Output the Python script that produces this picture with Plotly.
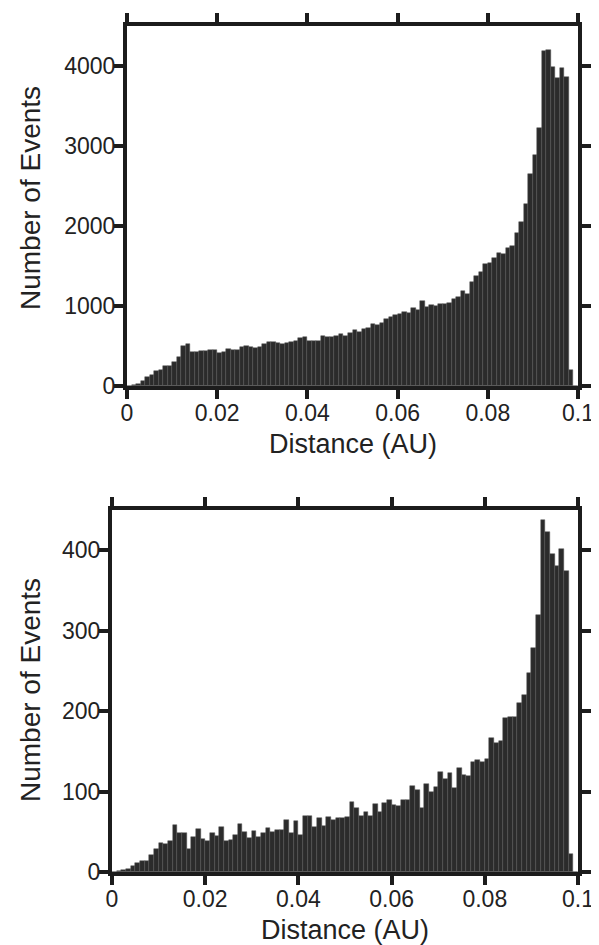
import numpy as np
import plotly.graph_objects as go

bin_width = 0.001

top_counts = [5, 15, 30, 60, 110, 135, 190, 200, 245, 255,
              295, 360, 500, 520, 430, 430, 435, 440, 455, 450,
              410, 430, 465, 455, 450, 490, 500, 490, 480, 490,
              520, 545, 550, 540, 521, 538, 555, 565, 598, 608,
              565, 560, 562, 625, 615, 618, 620, 650, 625, 667,
              700, 679, 708, 730, 771, 762, 783, 833, 867, 887,
              900, 929, 908, 970, 945, 1063, 983, 1013, 1000, 1025,
              1030, 1035, 1083, 1117, 1192, 1146, 1304, 1375, 1429, 1521,
              1542, 1596, 1658, 1646, 1721, 1754, 1908, 2054, 2271, 2650,
              2887, 3221, 4192, 4200, 3983, 3846, 3979, 3858, 200, 0]

bottom_counts = [0, 1, 3, 4, 7, 11, 14, 14, 21, 29,
                 36, 35, 39, 59, 48, 48, 28, 44, 54, 41,
                 38, 48, 45, 56, 39, 40, 46, 60, 50, 42,
                 51, 44, 49, 55, 50, 52, 52, 65, 48, 63,
                 46, 69, 69, 56, 67, 57, 68, 65, 67, 67,
                 68, 87, 79, 69, 74, 70, 84, 75, 86, 90,
                 83, 82, 90, 90, 107, 102, 80, 109, 100, 106,
                 124, 116, 123, 105, 129, 121, 119, 137, 139, 137,
                 140, 166, 160, 163, 192, 193, 193, 210, 220, 247,
                 278, 320, 438, 423, 395, 381, 402, 374, 23, 0]

x_tick_vals = [0, 0.02, 0.04, 0.06, 0.08, 0.1]
x_tick_text = ["0", "0.02", "0.04", "0.06", "0.08", "0.1"]
top_y_ticks = [0, 1000, 2000, 3000, 4000]
bottom_y_ticks = [0, 100, 200, 300, 400]

x_title = "Distance (AU)"
y_title = "Number of Events"

centers = (np.arange(len(top_counts)) + 0.5) * bin_width

# page has an 8px body margin; lay out in page pixels and convert
OFF = 8
W, H = 599 - OFF, 945 - OFF


def px(xp):
    return (xp - OFF) / W


def py(yp):
    return 1 - (yp - OFF) / H


FONT = "Liberation Sans, Arial, Helvetica, sans-serif"
INK = "#1c1c1c"
BAR = "#2b2b2b"

fig = go.Figure()
fig.add_trace(go.Bar(x=centers, y=top_counts, width=bin_width, xaxis="x", yaxis="y",
                     marker=dict(color=BAR, line=dict(color="#555555", width=0.5)),
                     hoverinfo="x+y"))
fig.add_trace(go.Bar(x=centers, y=bottom_counts, width=bin_width, xaxis="x2", yaxis="y2",
                     marker=dict(color=BAR, line=dict(color="#555555", width=0.5)),
                     hoverinfo="x+y"))

common = dict(showline=True, linewidth=4, linecolor=INK, mirror="allticks",
              ticks="outside", ticklen=9, tickwidth=3.5, tickcolor=INK,
              showgrid=False, zeroline=False, automargin=False,
              ticklabeloverflow="allow",
              tickfont=dict(family=FONT, size=23, color="#222"))

fig.update_layout(
    width=W, height=H, margin=dict(l=0, r=0, t=0, b=0, autoexpand=False),
    paper_bgcolor="white", plot_bgcolor="white", showlegend=False, bargap=0,
    xaxis=dict(domain=[px(127), px(578)], range=[0, 0.1], tickvals=x_tick_vals,
               ticktext=x_tick_text, anchor="y", ticklabelstandoff=-6, **common),
    yaxis=dict(domain=[py(386), py(26)], range=[0, 4500], tickvals=top_y_ticks,
               anchor="x", ticklabelstandoff=-6, **common),
    xaxis2=dict(domain=[px(112), px(578)], range=[0, 0.1], tickvals=x_tick_vals,
                ticktext=x_tick_text, anchor="y2", ticklabelstandoff=-6, **common),
    yaxis2=dict(domain=[py(872), py(510)], range=[0, 450], tickvals=bottom_y_ticks,
                anchor="x2", ticklabelstandoff=-6, **common),
)

ann_font = dict(family=FONT, size=27, color="#222")
fig.add_annotation(text=x_title, x=px((127 + 578) / 2), y=py(444), xref="paper", yref="paper",
                   showarrow=False, font=ann_font, xanchor="center", yanchor="middle")
fig.add_annotation(text=x_title, x=px((112 + 578) / 2), y=py(930), xref="paper", yref="paper",
                   showarrow=False, font=ann_font, xanchor="center", yanchor="middle")
fig.add_annotation(text=y_title, x=px(31), y=py(198), xref="paper", yref="paper",
                   showarrow=False, font=dict(family=FONT, size=28, color="#222"),
                   textangle=-90, xanchor="center", yanchor="middle")
fig.add_annotation(text=y_title, x=px(30), y=py(690), xref="paper", yref="paper",
                   showarrow=False, font=dict(family=FONT, size=28, color="#222"),
                   textangle=-90, xanchor="center", yanchor="middle")

fig.write_html("out.html")
